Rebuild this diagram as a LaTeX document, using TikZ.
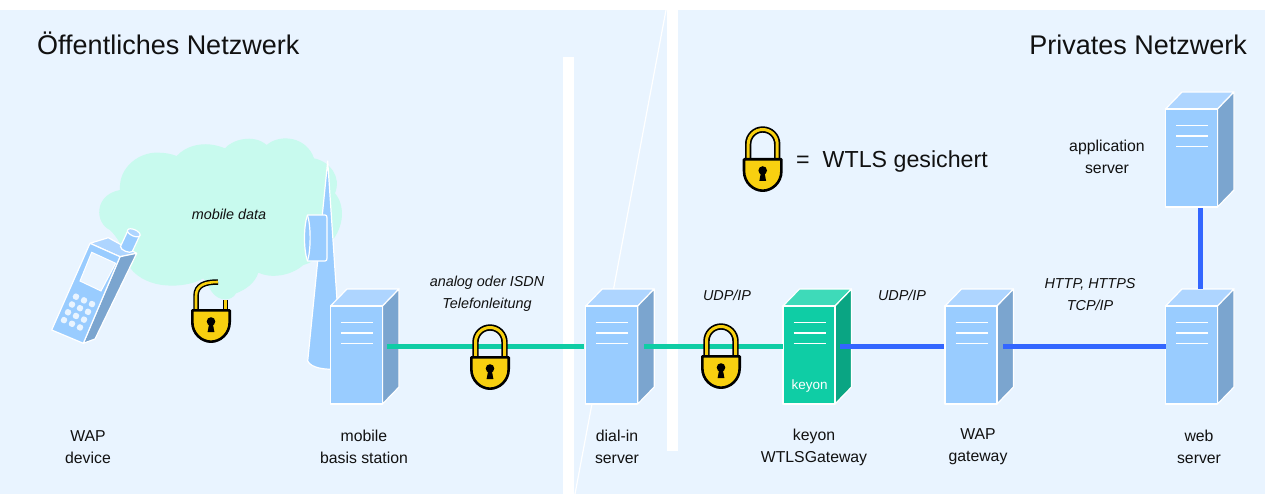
\documentclass[tikz,border=0pt]{standalone}
\usepackage{fontspec}
\setmainfont{Liberation Sans}
\definecolor{bgblue}{HTML}{E9F4FF}
\definecolor{cloudc}{HTML}{C8FAEE}
\definecolor{sfront}{HTML}{99CCFF}
\definecolor{stop}{HTML}{AED5FF}
\definecolor{sside}{HTML}{7BA5CF}
\definecolor{kfront}{HTML}{0FCDA5}
\definecolor{ktop}{HTML}{3EDAB9}
\definecolor{kside}{HTML}{0AA583}
\definecolor{lineblue}{HTML}{3366FF}
\definecolor{lockyellow}{HTML}{F8D010}
\definecolor{textc}{HTML}{111111}
\tikzset{
  edgeline/.style={draw=white,line width=1.2pt,line join=round},
  frontbox/.style={edgeline,minimum width=52pt,minimum height=98pt,inner sep=0pt,outer sep=0pt,anchor=north west},
  greenlink/.style={draw=kfront,line width=5pt},
  bluelink/.style={draw=lineblue,line width=5pt},
  lbl/.style={text=textc,font=\fontsize{15.8}{22}\selectfont,align=center,inner sep=0pt},
  ilbl/.style={text=textc,font=\fontsize{14.4}{22}\selectfont\itshape,align=center,inner sep=0pt},
  headl/.style={text=textc,font=\fontsize{27}{32}\selectfont,inner sep=0pt},
  keyhole/.pic={
    \fill[black] (0,0) circle (4.3);
    \fill[black] (-1.8,2) -- (1.8,2) -- (3.4,10.5) -- (-3.4,10.5) -- cycle;
  },
  lockbody/.pic={
    \draw[black,line width=2.6pt,fill=lockyellow,line join=round] (-18.7,1.3) -- (18.7,1.3) -- (18.7,13)
      .. controls (18.7,25) and (9,32.7) .. (0,32.7)
      .. controls (-9,32.7) and (-18.7,25) .. (-18.7,13) -- cycle;
    \pic at (0,12.5) {keyhole};
  },
  closedlock/.pic={
    \draw[black,line width=6.4pt] (-14.5,2) -- (-14.5,-14) arc[start angle=180,end angle=360,radius=14.5] -- (14.5,2);
    \draw[lockyellow,line width=3pt] (-14.5,2) -- (-14.5,-14) arc[start angle=180,end angle=360,radius=14.5] -- (14.5,2);
    \pic {lockbody};
  },
  openlock/.pic={
    \draw[black,line width=5.5pt] (-15,2) -- (-15,-13) .. controls (-15,-24) and (-6,-27) .. (7,-27);
    \draw[lockyellow,line width=2.6pt] (-15,2) -- (-15,-13) .. controls (-15,-24) and (-6,-27) .. (7,-27);
    \draw[black,line width=5.5pt] (14.5,2) -- (14.5,-9);
    \draw[lockyellow,line width=2.6pt] (14.5,2) -- (14.5,-9);
    \pic {lockbody};
  },
}
% name, x, y, front, top, side
\newcommand{\serverbox}[6]{%
  \fill[#5] (#2,#3) -- ++(16.5,-17) -- ++(52,0) -- ++(-16.5,17) -- cycle;
  \draw[edgeline] (#2,#3) -- ++(16.5,-17) -- ++(52,0) -- ++(-16.5,17);
  \path[edgeline,fill=#6] (#2+52,#3) -- ++(16.5,-17) -- ++(0,98) -- ++(-16.5,17) -- cycle;
  \node[frontbox,fill=#4] (#1) at (#2,#3) {};
  \foreach \dy in {16.5,27,37.5}
    \draw[white,line width=1.2pt] (#2+10.5,#3+\dy) -- ++(32,0);
}
\begin{document}
\begin{tikzpicture}[x=1pt,y=-1pt]
\useasboundingbox (0,0) rectangle (1265,494);
\fill[white] (0,0) rectangle (1265,494);
\fill[bgblue] (0,10) rectangle (1265,494);
% white dividers
\fill[white] (563,57) rectangle (574,494);
\fill[white] (667,10) rectangle (678,451);
\draw[white,line width=1.2pt] (666,10) -- (575,494);
% cloud
\begin{scope}[shift={(90,130)},x=0.33333pt,y=-0.33333pt]
\fill[cloudc] (90,180) .. controls (85,110) and (150,65) .. (205,68)
  .. controls (225,68) and (245,72) .. (260,78)
  .. controls (285,50) and (340,28) .. (405,55)
  .. controls (425,30) and (490,10) .. (530,45)
  .. controls (570,10) and (650,20) .. (672,85)
  .. controls (720,95) and (755,140) .. (735,190)
  .. controls (765,225) and (765,290) .. (720,340)
  .. controls (700,380) and (660,400) .. (640,405)
  .. controls (600,440) and (540,445) .. (505,428)
  .. controls (495,460) and (465,480) .. (438,490)
  .. controls (425,515) and (385,515) .. (365,485)
  .. controls (355,470) and (348,455) .. (340,445)
  .. controls (300,470) and (190,485) .. (130,425)
  .. controls (100,395) and (110,350) .. (60,300)
  .. controls (15,280) and (10,195) .. (90,180) -- cycle;
\end{scope}
% tower
\path[edgeline,fill=sfront] (327.7,161) -- (337,300) -- (337,369)
  .. controls (325,370) and (311,368) .. (307.7,361) -- cycle;
\path[edgeline,fill=sfront] (307.5,215) -- (325,215)
  .. controls (326.5,215) and (327,216) .. (327,218) -- (327,258)
  .. controls (327,260) and (326.5,261) .. (325,261) -- (307.5,261)
  .. controls (303.5,250) and (303.5,226) .. (307.5,215) -- cycle;
\draw[edgeline] (307.5,215) .. controls (311,226) and (311,250) .. (307.5,261);
% phone
\path[edgeline,fill=stop] (90,243.3) -- (108.3,237.7) -- (136.7,253.3) -- (120,256.7) -- cycle;
\path[edgeline,fill=sside] (120,256.7) -- (136.7,253.3) -- (95,339) -- (83.3,343.3) -- cycle;
\path[edgeline,fill=sfront] (90,243.3) -- (120,256.7) -- (83.3,343.3) -- (51.7,330) -- cycle;
\path[edgeline,fill=sfront] (127.7,231) -- (120.5,246.5) .. controls (120,250) and (130,254) .. (132.3,251.5) -- (140,235) -- cycle;
\path[edgeline,fill=stop,rotate around={-24:(133.8,232.8)}] (133.8,232.8) ellipse[x radius=6.8,y radius=3.2];
\path[draw=white,line width=1pt,fill=bgblue] (91.7,252.3) -- (115.7,263.3) -- (101,291) -- (80,281) -- cycle;
\foreach \r in {0,1,2,3}
  \foreach \c in {0,1,2}
    \fill[bgblue,rounded corners=1.5pt,shift={(76+\c*8-\r*4,296.7+\c*3.67+\r*7.8)}]
      (-1.4,-3.9) -- (3.9,-1.4) -- (1.4,3.9) -- (-3.9,1.4) -- cycle;
% servers
\serverbox{mobile}{330.5}{306}{sfront}{stop}{sside}
\serverbox{dial}{585.7}{306}{sfront}{stop}{sside}
\serverbox{gate}{783}{306}{kfront}{ktop}{kside}
\serverbox{wap}{945}{306}{sfront}{stop}{sside}
\serverbox{web}{1165.5}{306}{sfront}{stop}{sside}
\serverbox{app}{1165.5}{109}{sfront}{stop}{sside}
\node[text=white,font=\fontsize{13.5}{16}\selectfont,inner sep=0pt] (keyontxt) at (809.5,386) {keyon};
% connectors
\draw[greenlink,shorten <=4.5pt,shorten >=1.5pt] ([yshift=9pt]mobile.east) -- ([yshift=9pt]dial.west);
\draw[greenlink,shorten <=6.5pt] ([yshift=9pt]dial.east) -- ([yshift=9pt]gate.west);
\draw[bluelink,shorten <=5pt,shorten >=1pt] ([yshift=9pt]gate.east) -- ([yshift=9pt]wap.west);
\draw[bluelink,shorten <=6pt] ([yshift=9pt]wap.east) -- ([yshift=9pt]web.west);
\draw[bluelink,shorten <=1.5pt,shorten >=17pt] ([xshift=8.5pt]app.south) -- ([xshift=8.5pt]web.north);
% locks
\pic at (211,309) {openlock};
\pic at (490,356) {closedlock};
\pic at (721,355) {closedlock};
\pic at (762.7,158) {closedlock};
% texts
\node[headl,anchor=base west] (hl) at (37,55) {Öffentliches Netzwerk};
\node[headl,anchor=base east] (hr) at (1247,55) {Privates Netzwerk};
\node[text=textc,font=\fontsize{23.2}{26}\selectfont,inner sep=0pt,anchor=base west] (legend) at (796,168) {=\hspace{0.56em}WTLS gesichert};
\node[ilbl] (lmd) at (229,214) {mobile data};
\node[ilbl] (lan) at (487,294) {analog oder ISDN\\Telefonleitung};
\node[ilbl] (lu1) at (727,295) {UDP/IP};
\node[ilbl] (lu2) at (902,295) {UDP/IP};
\node[ilbl] (lht) at (1090,295) {HTTP, HTTPS\\TCP/IP};
\node[lbl] (l1) at (88,447) {WAP\\device};
\node[lbl] (l2) at (364,447) {mobile\\basis station};
\node[lbl] (l3) at (617,447) {dial-in\\server};
\node[lbl] (l4) at (814,447) {keyon\\WTLSGateway};
\node[lbl] (l5) at (978,447) {WAP\\gateway};
\node[lbl] (l6) at (1199,447) {web\\server};
\node[lbl] (l7) at (1107,157) {application\\server};
\end{tikzpicture}
\end{document}
